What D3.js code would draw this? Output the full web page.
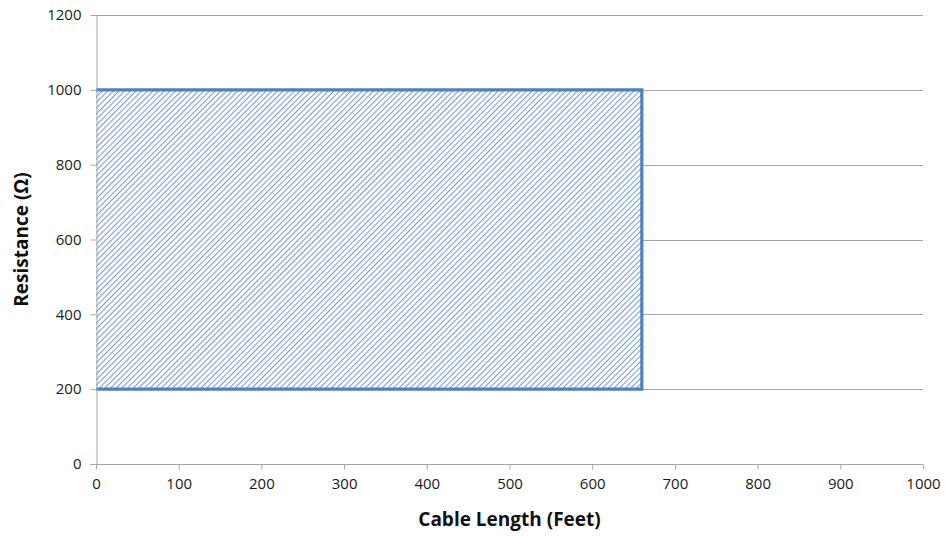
<!DOCTYPE html>
<html>
<head>
<meta charset="utf-8">
<script src="https://cdn.jsdelivr.net/npm/d3@7"></script>
<style>
  html, body { margin: 0; padding: 0; background: #fff; }
  svg text { font-family: "Open Sans", "Liberation Sans", sans-serif; }
</style>
</head>
<body>
<svg id="chart" width="946" height="536"></svg>
<script>
// Operating region: cable length vs. resistance
const regionLength = [0, 660];       // feet
const regionResistance = [200, 1000]; // ohms
const xTicks = [0, 100, 200, 300, 400, 500, 600, 700, 800, 900, 1000];
const yTicks = [0, 200, 400, 600, 800, 1000, 1200];
const xTitle = "Cable Length (Feet)";
const yTitle = "Resistance (Ω)";

const svg = d3.select("#chart");
const margin = { left: 96, right: 23, top: 15, bottom: 72 };
const W = 946, H = 536;

const x = d3.scaleLinear().domain([0, 1000]).range([margin.left, W - margin.right]);
const y = d3.scaleLinear().domain([0, 1200]).range([H - margin.bottom, margin.top]);

// Hatch pattern
const defs = svg.append("defs");
const pat = defs.append("pattern")
  .attr("id", "hatch")
  .attr("patternUnits", "userSpaceOnUse")
  .attr("width", 4).attr("height", 4)
  .attr("patternTransform", "rotate(45)");
pat.append("rect").attr("width", 4).attr("height", 4).attr("fill", "#ffffff");
pat.append("line")
  .attr("x1", 0).attr("y1", 0).attr("x2", 0).attr("y2", 4)
  .attr("stroke", "#7c9fd6").attr("stroke-width", 2.2);

// Horizontal gridlines
svg.append("g")
  .selectAll("line")
  .data(yTicks.filter(d => d > 0))
  .join("line")
  .attr("x1", x(0)).attr("x2", x(1000))
  .attr("y1", d => Math.round(y(d)) + 0.5).attr("y2", d => Math.round(y(d)) + 0.5)
  .attr("stroke", "#a6a6a6").attr("stroke-width", 1);

// Region fill
svg.append("rect")
  .attr("x", x(regionLength[0]))
  .attr("y", y(regionResistance[1]))
  .attr("width", x(regionLength[1]) - x(regionLength[0]))
  .attr("height", y(regionResistance[0]) - y(regionResistance[1]))
  .attr("fill", "url(#hatch)");

// Region outline
const outline = [
  [regionLength[0], regionResistance[1]],
  [regionLength[1], regionResistance[1]],
  [regionLength[1], regionResistance[0]],
  [regionLength[0], regionResistance[0]]
];
svg.append("path")
  .attr("d", d3.line().x(d => x(d[0])).y(d => y(d[1]))(outline))
  .attr("fill", "none")
  .attr("stroke", "#4f81bd")
  .attr("stroke-width", 3.2)
  .attr("stroke-linejoin", "miter");

// Axes
const fmt = d3.format("d");
const xAxis = d3.axisBottom(x).tickValues(xTicks).tickFormat(fmt).tickSize(5).tickPadding(9).tickSizeOuter(0);
const yAxis = d3.axisLeft(y).tickValues(yTicks).tickFormat(fmt).tickSize(6).tickPadding(9).tickSizeOuter(0);

const gx = svg.append("g")
  .attr("transform", `translate(0,${Math.round(y(0)) + 0.5})`)
  .call(xAxis);
const gy = svg.append("g")
  .attr("transform", `translate(${Math.round(x(0)) + 0.5},0)`)
  .call(yAxis);

[gx, gy].forEach(g => {
  g.select(".domain").attr("stroke", "#a6a6a6").attr("stroke-width", 1);
  g.selectAll(".tick line").attr("stroke", "#a6a6a6");
  g.selectAll(".tick text")
    .attr("fill", "#1a1a1a")
    .style("font-size", "15px");
});
gx.select(".domain").attr("d", `M${x(0) - 6},0H${x(1000)}`);

// Axis titles
svg.append("text")
  .attr("x", (x(0) + x(1000)) / 2)
  .attr("y", 526)
  .attr("text-anchor", "middle")
  .style("font-size", "19px")
  .style("font-weight", "bold")
  .attr("fill", "#111")
  .text(xTitle);

svg.append("text")
  .attr("transform", `translate(28,${(y(0) + y(1200)) / 2}) rotate(-90)`)
  .attr("text-anchor", "middle")
  .style("font-size", "19px")
  .style("font-weight", "bold")
  .attr("fill", "#111")
  .text(yTitle);
</script>
</body>
</html>
